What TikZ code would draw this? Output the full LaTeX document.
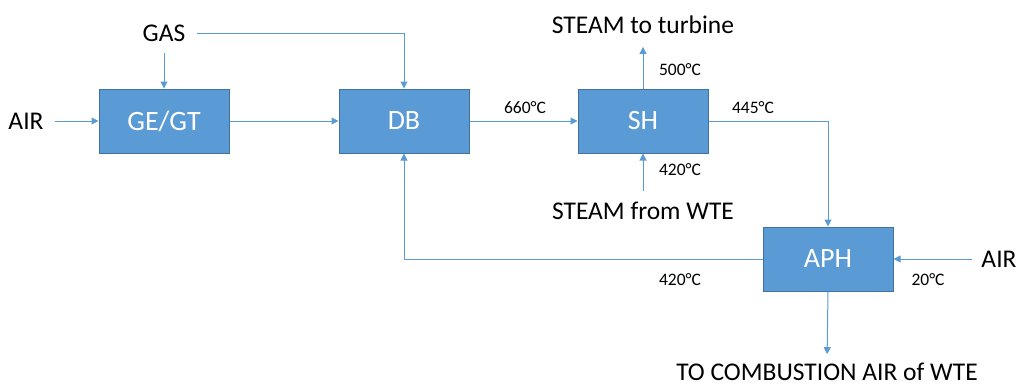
\documentclass[tikz,border=0pt]{standalone}
\usepackage{fontspec}
\setmainfont{Carlito}
\usetikzlibrary{arrows.meta}
\definecolor{boxfill}{HTML}{5B9BD5}
\definecolor{boxline}{HTML}{41719C}
\definecolor{flowline}{HTML}{5B9BD5}
\tikzset{
  unit/.style={draw=boxline, line width=1pt, fill=boxfill, text=white,
    minimum width=130pt, minimum height=64pt, inner sep=0pt,
    font=\fontsize{28}{32}\selectfont},
  stream/.style={inner sep=0pt, outer sep=0pt, text=black,
    font=\fontsize{25.5}{30}\selectfont},
  temp/.style={inner sep=0pt, text=black, font=\fontsize{17.5}{21}\selectfont},
  flow/.style={draw=flowline, line width=1pt,
    -{Triangle[length=7pt,width=7pt]}},
}
\begin{document}
\begin{tikzpicture}[x=1pt,y=-1pt]
\useasboundingbox (0,0) rectangle (1018,388);

% process units
\node[unit] (ge)  at (164,121) {GE/GT};
\node[unit] (db)  at (404,121) {DB};
\node[unit] (sh)  at (643,121) {SH};
\node[unit] (aph) at (828,259) {APH};

% stream labels
\node[stream] (airin)  at (26,121)  {AIR};
\node[stream] (gas)    at (164,33)  {GAS};
\node[stream] (stout)  at (643,25)  {STEAM to turbine};
\node[stream] (stin)   at (643,211) {STEAM from WTE};
\node[stream] (airaph) at (999,259) {AIR};
\node[stream] (comb)   at (827,372) {TO COMBUSTION AIR of WTE};

% temperatures
\node[temp] (t660) at (525,108) {660°C};
\node[temp] (t500) at (680,70)  {500°C};
\node[temp] (t420s) at (680,170) {420°C};
\node[temp] (t445) at (753,108) {445°C};
\node[temp] (t420a) at (680,280) {420°C};
\node[temp] (t20)  at (928,280) {20°C};

% flows
\draw[flow, shorten <=11pt] (airin.east) -- (ge.west);
\draw[flow, shorten <=12pt] (gas.south) -- (ge.north);
\draw[flow, shorten <=12pt] (gas.east) -| (db.north);
\draw[flow] (ge.east) -- (db.west);
\draw[flow] (db.east) -- (sh.west);
\draw[flow, shorten >=13pt] (sh.north) -- (stout.south);
\draw[flow, shorten <=11pt] (stin.north) -- (sh.south);
\draw[flow] (sh.east) -| (aph.north);
\draw[flow] (aph.west) -| (db.south);
\draw[flow, shorten <=9pt] (airaph.west) -- (aph.east);
\draw[flow, shorten >=9pt] (aph.south) -- (comb.north);
\end{tikzpicture}
\end{document}
